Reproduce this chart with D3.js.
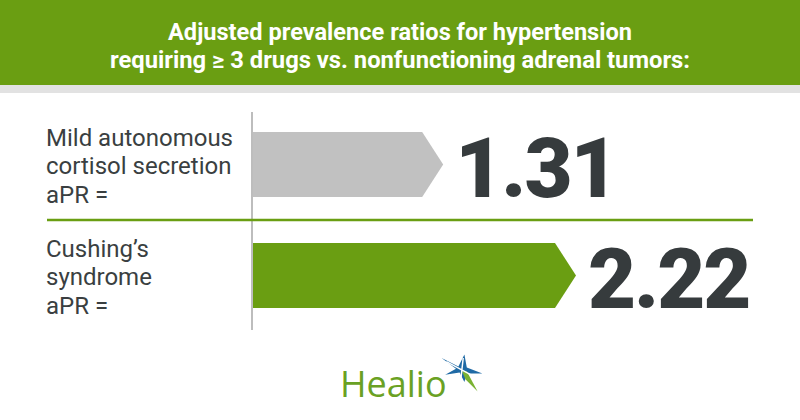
<!DOCTYPE html>
<html>
<head>
<meta charset="utf-8">
<script src="https://cdn.jsdelivr.net/npm/d3@7"></script>
<style>
  body { margin: 0; background: #fff; }
  svg { display: block; }
</style>
</head>
<body>
<svg width="800" height="420"></svg>
<script>
const titleLines = [
  "Adjusted prevalence ratios for hypertension",
  "requiring \u2265 3 drugs vs. nonfunctioning adrenal tumors:"
];
const categories = [
  ["Mild autonomous", "cortisol secretion", "aPR ="],
  ["Cushing\u2019s", "syndrome", "aPR ="]
];
const values = [1.31, 2.22];
const barColors = ["#c1c1c1", "#6a9e12"];

const svg = d3.select("svg");
const width = +svg.attr("width");
const height = +svg.attr("height");

const green = "#6a9e12";
const textColor = "#3a3f41";

// header band
svg.append("rect")
  .attr("x", 0).attr("y", 0)
  .attr("width", width).attr("height", 85)
  .attr("fill", green);
svg.append("rect")
  .attr("x", 0).attr("y", 85)
  .attr("width", width).attr("height", 8)
  .attr("fill", "#e2e2e2");

const titleWidths = [464, 580];
svg.selectAll("text.title")
  .data(titleLines)
  .join("text")
  .attr("class", "title")
  .attr("x", width / 2)
  .attr("y", (d, i) => 40 + i * 28)
  .attr("text-anchor", "middle")
  .attr("textLength", (d, i) => titleWidths[i])
  .attr("lengthAdjust", "spacingAndGlyphs")
  .style("font-family", "Roboto, sans-serif")
  .style("font-weight", 700)
  .style("font-size", "23px")
  .style("fill", "#fff")
  .text(d => d);

const x = d3.scaleLinear()
  .domain([0, 2.22])
  .range([252, 576]);

const y = d3.scaleBand()
  .domain(d3.range(values.length))
  .range([86, 354])
  .padding(0.414);

const tip = 21;

// baseline axis line
svg.append("line")
  .attr("x1", x(0)).attr("x2", x(0))
  .attr("y1", 112).attr("y2", 330)
  .attr("stroke", "#bdbdbd")
  .attr("stroke-width", 2);

// separator
const sepY = y(1) - (y.step() - y.bandwidth()) / 2;
svg.append("line")
  .attr("x1", 47).attr("x2", 753)
  .attr("y1", sepY).attr("y2", sepY)
  .attr("stroke", green)
  .attr("stroke-width", 2.5);

// arrow bars
svg.selectAll("path.bar")
  .data(values)
  .join("path")
  .attr("class", "bar")
  .attr("fill", (d, i) => barColors[i])
  .attr("d", (d, i) => {
    const x0 = x(0) + 1, x1 = x(d), y0 = y(i), h = y.bandwidth();
    return `M${x0},${y0}H${x1 - tip}L${x1},${y0 + h / 2}L${x1 - tip},${y0 + h}H${x0}Z`;
  });

// value labels
svg.selectAll("text.value")
  .data(values)
  .join("text")
  .attr("class", "value")
  .attr("x", d => x(d) + 12)
  .attr("y", (d, i) => y(i) + y.bandwidth())
  .style("font-family", "Roboto, sans-serif")
  .style("font-weight", 900)
  .style("font-size", "83px")
  .style("letter-spacing", "-2px")
  .style("fill", "#363b3d")
  .text(d => d.toFixed(2));

// category labels
const labels = svg.selectAll("text.cat")
  .data(categories)
  .join("text")
  .attr("class", "cat")
  .style("font-family", "Roboto, sans-serif")
  .style("font-size", "24px")
  .style("fill", textColor);

labels.selectAll("tspan")
  .data((d, i) => d.map(t => ({ t, i })))
  .join("tspan")
  .attr("x", 46)
  .attr("y", (d, k) => y(d.i) + 14 + k * 28.5)
  .text(d => d.t);

// Healio logo
svg.append("text")
  .attr("x", 340)
  .attr("y", 397)
  .style("font-family", "'Open Sans', sans-serif")
  .style("font-size", "36px")
  .style("fill", "#6aa123")
  .text("Healio");

const star = svg.append("g").attr("transform", "translate(462,370) scale(1.2)");
star.append("path")
  .attr("d", "M-17,-10L-3,-3L2,-13L4,-2L17,3L4,3L2,10L-2,2L-14,4L-5,-1Z")
  .attr("fill", "#1f6aa5");
star.append("path")
  .attr("d", "M0,1L4,1L13,18L3,8Z")
  .attr("fill", "#7ab232");
star.append("path")
  .attr("d", "M-13,-7L11,6M1,-10L-1,8")
  .attr("stroke", "#fff")
  .attr("stroke-width", 1.2);
</script>
</body>
</html>
